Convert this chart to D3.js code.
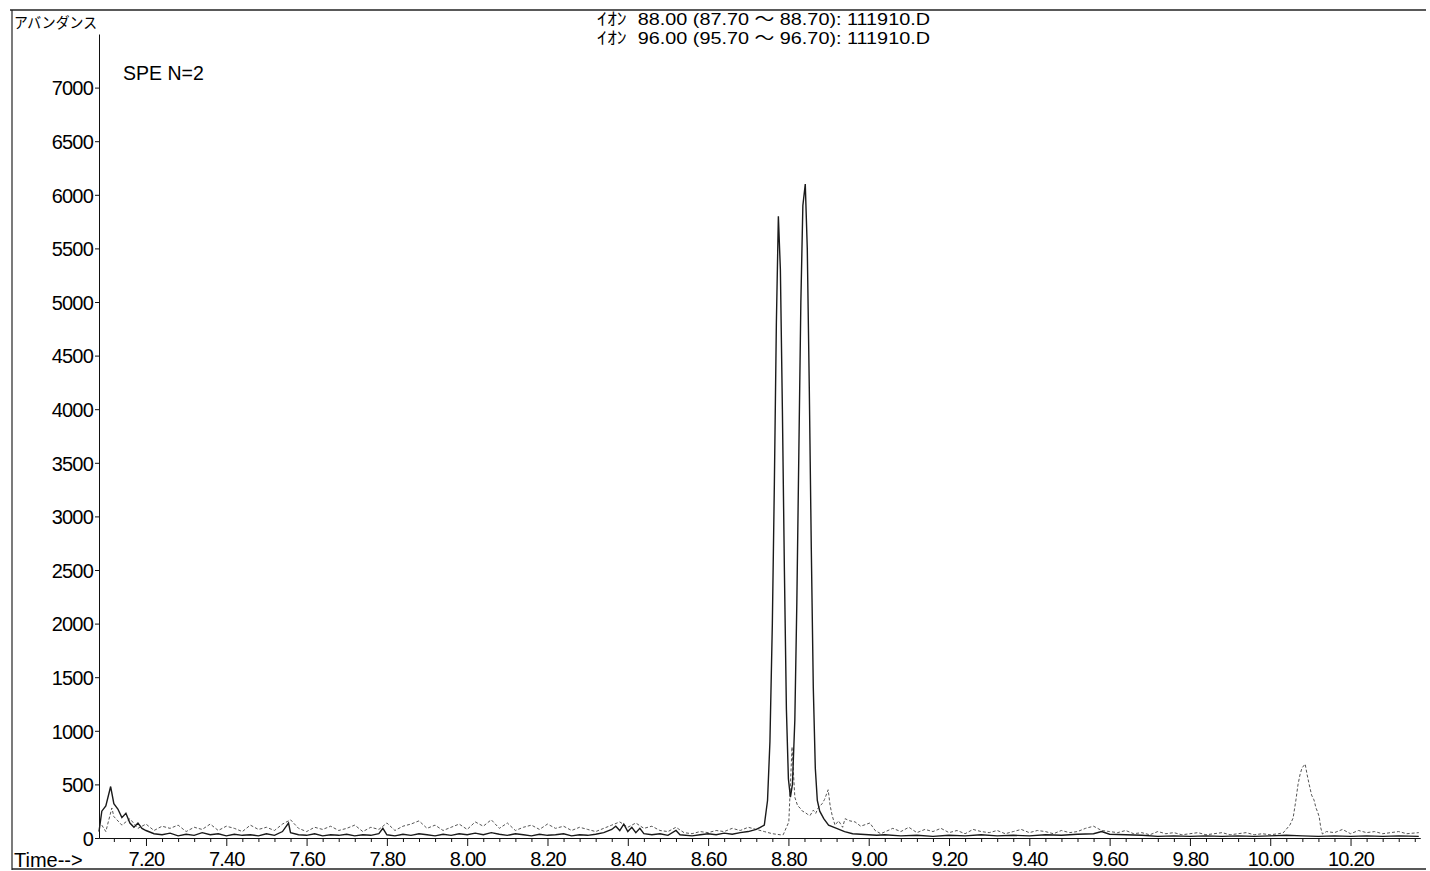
<!DOCTYPE html>
<html>
<head>
<meta charset="utf-8">
<script src="https://cdn.jsdelivr.net/npm/d3@7"></script>
<style>
  body { margin: 0; background: #fff; }
  svg { display: block; }
  .axis text { font-family: "Liberation Sans", Arial, sans-serif; font-size: 20px; letter-spacing: -0.8px; fill: #000; }
  .axis path, .axis line { stroke: #111; }
</style>
</head>
<body>
<svg id="chart" width="1430" height="871"></svg>
<script>
// Chart data

var headerLines = [
  'ｲｵﾝ  88.00 (87.70 ～ 88.70): 111910.D',
  'ｲｵﾝ  96.00 (95.70 ～ 96.70): 111910.D'
]

var yTicks = [0, 500, 1000, 1500, 2000, 2500, 3000, 3500, 4000, 4500, 5000, 5500, 6000, 6500, 7000]
var xTicks = [7.2, 7.4, 7.6, 7.8, 8.0, 8.2, 8.4, 8.6, 8.8, 9.0, 9.2, 9.4, 9.6, 9.8, 10.0, 10.2]

// ion 88 : time (min), abundance
var ion88Time = [
  7.083, 7.09, 7.10, 7.112, 7.12, 7.13, 7.14, 7.15, 7.16, 7.17, 7.18, 7.19, 7.20, 7.22, 7.24,
  7.26, 7.28, 7.30, 7.32, 7.34, 7.36, 7.38, 7.40, 7.42, 7.44, 7.46, 7.48, 7.50, 7.52, 7.54,
  7.555, 7.56, 7.58, 7.60, 7.62, 7.64, 7.66, 7.68, 7.70, 7.72, 7.74, 7.76, 7.78, 7.79, 7.80,
  7.82, 7.84, 7.86, 7.88, 7.90, 7.92, 7.94, 7.96, 7.98, 8.00, 8.02, 8.04, 8.06, 8.08, 8.10,
  8.12, 8.14, 8.16, 8.18, 8.20, 8.22, 8.24, 8.26, 8.28, 8.30, 8.32, 8.34, 8.36, 8.37, 8.38,
  8.39, 8.40, 8.41, 8.42, 8.43, 8.44, 8.46, 8.48, 8.50, 8.52, 8.53, 8.56, 8.58, 8.60, 8.62,
  8.64, 8.66, 8.68, 8.70, 8.72, 8.73, 8.740, 8.748, 8.754, 8.760, 8.765, 8.770, 8.775, 8.780,
  8.785, 8.790, 8.795, 8.800, 8.805, 8.810, 8.816, 8.821, 8.826, 8.831, 8.836, 8.842, 8.847,
  8.852, 8.857, 8.862, 8.867, 8.872, 8.878, 8.888, 8.90, 8.92, 8.94, 8.96, 8.98, 9.00, 9.02,
  9.04, 9.08, 9.12, 9.16, 9.20, 9.24, 9.28, 9.32, 9.36, 9.40, 9.44, 9.48, 9.52, 9.56, 9.58,
  9.60, 9.64, 9.68, 9.72, 9.76, 9.80, 9.84, 9.88, 9.92, 9.96, 10.00, 10.04, 10.08, 10.12,
  10.16, 10.20, 10.24, 10.28, 10.32, 10.37
]
var ion88Abund = [
  60, 250, 300, 480, 320, 270, 190, 230, 140, 100, 140, 90, 70, 40, 30,
  45, 20, 35, 25, 50, 30, 40, 20, 35, 25, 30, 20, 40, 25, 60,
  140, 50, 30, 25, 40, 20, 30, 25, 35, 20, 30, 25, 40, 90, 30,
  20, 35, 25, 40, 30, 20, 35, 25, 40, 30, 45, 30, 50, 35, 25,
  40, 30, 20, 35, 25, 30, 40, 20, 30, 25, 35, 50, 80, 110, 70,
  130, 60, 100, 50, 90, 40, 30, 40, 25, 70, 30, 20, 30, 40, 30,
  45, 35, 50, 60, 80, 100, 120, 350, 900, 2000, 3300, 4800, 5800, 5300,
  4000, 2500, 1200, 550, 380, 500, 1100, 2200, 3600, 5000, 5900, 6100, 5500,
  4200, 2700, 1400, 650, 350, 250, 180, 120, 90, 60, 40, 35, 30, 25,
  30, 20, 25, 15, 25, 20, 30, 20, 25, 20, 30, 25, 35, 40, 60,
  35, 30, 25, 15, 20, 15, 20, 15, 20, 15, 20, 25, 20, 15,
  20, 15, 20, 15, 20, 15
]

// ion 96 : time (min), abundance
var ion96Time = [
  7.09, 7.10, 7.115, 7.12, 7.14, 7.16, 7.18, 7.20, 7.22, 7.24, 7.26, 7.28, 7.30, 7.32, 7.34,
  7.36, 7.38, 7.40, 7.42, 7.44, 7.46, 7.48, 7.50, 7.52, 7.54, 7.56, 7.58, 7.60, 7.62, 7.64,
  7.66, 7.68, 7.70, 7.72, 7.74, 7.76, 7.78, 7.80, 7.82, 7.84, 7.86, 7.88, 7.90, 7.92, 7.94,
  7.96, 7.98, 8.00, 8.02, 8.04, 8.06, 8.08, 8.10, 8.12, 8.14, 8.16, 8.18, 8.20, 8.22, 8.24,
  8.26, 8.28, 8.30, 8.32, 8.34, 8.36, 8.38, 8.40, 8.42, 8.44, 8.46, 8.48, 8.50, 8.52, 8.54,
  8.56, 8.58, 8.60, 8.62, 8.64, 8.66, 8.68, 8.70, 8.72, 8.74, 8.76, 8.78, 8.787, 8.801, 8.809,
  8.816, 8.823, 8.829, 8.835, 8.841, 8.848, 8.854, 8.862, 8.868, 8.874, 8.884, 8.89, 8.894,
  8.899, 8.904, 8.909, 8.916, 8.925, 8.935, 8.941, 8.953, 8.966, 8.98, 9.003, 9.016, 9.03,
  9.06, 9.08, 9.10, 9.12, 9.14, 9.16, 9.18, 9.20, 9.22, 9.24, 9.26, 9.28, 9.30, 9.32, 9.34,
  9.36, 9.38, 9.40, 9.42, 9.44, 9.46, 9.48, 9.50, 9.52, 9.54, 9.56, 9.58, 9.60, 9.62, 9.64,
  9.66, 9.68, 9.70, 9.72, 9.74, 9.76, 9.78, 9.80, 9.82, 9.84, 9.86, 9.88, 9.90, 9.92, 9.94,
  9.96, 9.98, 10.00, 10.02, 10.032, 10.049, 10.057, 10.064, 10.069, 10.074, 10.079, 10.087,
  10.092, 10.097, 10.103, 10.109, 10.114, 10.118, 10.122, 10.126, 10.13, 10.14, 10.16, 10.18,
  10.20, 10.22, 10.24, 10.26, 10.28, 10.30, 10.32, 10.34, 10.37
]
var ion96Abund = [
  120, 60, 280, 200, 120, 180, 90, 130, 70, 110, 90, 120, 60, 100, 80,
  130, 70, 110, 90, 60, 120, 80, 100, 70, 130, 170, 90, 60, 100, 80,
  110, 70, 90, 120, 60, 100, 80, 140, 70, 110, 130, 160, 90, 120, 70,
  100, 130, 80, 150, 110, 170, 90, 140, 70, 100, 120, 80, 130, 90, 110,
  70, 100, 80, 60, 90, 120, 150, 100, 140, 90, 110, 70, 60, 100, 50,
  40, 60, 50, 70, 60, 90, 70, 100, 80, 60, 40, 30, 30, 150, 850,
  380, 300, 280, 250, 240, 220, 210, 260, 230, 280, 320, 360, 400,
  450, 300, 210, 120, 160, 100, 180, 160, 150, 110, 140, 70, 40,
  90, 60, 100, 50, 80, 60, 90, 50, 70, 40, 80, 60, 50, 70, 40,
  60, 80, 50, 70, 60, 40, 70, 50, 60, 90, 110, 70, 60, 50, 70,
  40, 50, 30, 60, 40, 50, 30, 40, 50, 30, 40, 50, 30, 40, 50,
  30, 40, 30, 40, 47, 121, 187, 355, 495, 588, 653, 690,
  588, 500, 400, 355, 280, 243, 196, 93, 37, 60, 50, 80,
  40, 70, 50, 60, 40, 50, 60, 40, 50
]

var svg = d3.select('#chart')

// Scales (domain runs a bit past the last tick, like the plot frame)
var xPositionScale = d3.scaleLinear().domain([7.083, 10.373]).range([99, 1420])
var yPositionScale = d3.scaleLinear().domain([0, 7500]).range([838, 34])

// outer frame of the printout
svg.append('line').attr('x1', 10).attr('x2', 1426).attr('y1', 10).attr('y2', 10)
  .attr('stroke', '#222').attr('stroke-width', 1.5)
svg.append('line').attr('x1', 12).attr('x2', 12).attr('y1', 10).attr('y2', 870)
  .attr('stroke', '#222').attr('stroke-width', 1.2)
svg.append('line').attr('x1', 12).attr('x2', 1426).attr('y1', 869).attr('y2', 869)
  .attr('stroke', '#222').attr('stroke-width', 1.5)

// header
svg.selectAll('.header')
  .data(headerLines)
  .enter()
  .append('text')
  .attr('class', 'header')
  .attr('x', 597)
  .attr('y', (d, i) => 25 + i * 19)
  .attr('font-family', '"Liberation Sans", "Noto Sans CJK JP", sans-serif')
  .attr('font-size', 17)
  .attr('fill', '#000')
  .attr('textLength', 333)
  .attr('lengthAdjust', 'spacingAndGlyphs')
  .style('white-space', 'pre')
  .text(d => d)

svg.append('text')
  .attr('x', 14)
  .attr('y', 28)
  .attr('font-family', '"Noto Sans CJK JP", sans-serif')
  .attr('font-size', 15)
  .attr('fill', '#000')
  .attr('textLength', 83)
  .attr('lengthAdjust', 'spacingAndGlyphs')
  .text('アバンダンス')

svg.append('text')
  .attr('x', 123)
  .attr('y', 80)
  .attr('font-family', '"Liberation Sans", Arial, sans-serif')
  .attr('font-size', 19.5)
  .attr('fill', '#000')
  .text('SPE N=2')

svg.append('text')
  .attr('x', 14)
  .attr('y', 867)
  .attr('font-family', '"Liberation Sans", Arial, sans-serif')
  .attr('font-size', 20)
  .attr('fill', '#000')
  .text('Time-->')

// axes
var yAxis = d3.axisLeft(yPositionScale)
  .tickValues(yTicks)
  .tickFormat(d3.format('d'))
  .tickSize(4)
  .tickSizeOuter(0)
svg.append('g')
  .attr('class', 'axis y-axis')
  .attr('transform', 'translate(99,0)')
  .call(yAxis)
  .call(g => g.selectAll('text').attr('x', -6).attr('dy', '0.36em'))

var minorTicks = d3.range(7.12, 10.37, 0.04).filter(t => xTicks.every(m => Math.abs(m - t) > 0.005))
svg.append('g')
  .attr('class', 'axis x-minor')
  .attr('transform', 'translate(0,838)')
  .call(d3.axisBottom(xPositionScale).tickValues(minorTicks).tickFormat('').tickSize(4).tickSizeOuter(0))

var xAxis = d3.axisBottom(xPositionScale)
  .tickValues(xTicks)
  .tickFormat(d3.format('.2f'))
  .tickSize(8)
  .tickSizeOuter(0)
svg.append('g')
  .attr('class', 'axis x-axis')
  .attr('transform', 'translate(0,838)')
  .call(xAxis)
  .call(g => g.selectAll('text').attr('y', 14))

// traces
var ion96 = ion96Time.map((t, i) => ({ t: t, v: ion96Abund[i] }))
var ion88 = ion88Time.map((t, i) => ({ t: t, v: ion88Abund[i] }))

var line = d3.line()
  .x(d => xPositionScale(d.t))
  .y(d => yPositionScale(d.v))

svg.append('path')
  .datum(ion96)
  .attr('d', line)
  .attr('fill', 'none')
  .attr('stroke', '#555')
  .attr('stroke-width', 1)
  .attr('stroke-dasharray', '3,2')

svg.append('path')
  .datum(ion88)
  .attr('d', line)
  .attr('fill', 'none')
  .attr('stroke', '#1a1a1a')
  .attr('stroke-width', 1.4)
</script>
</body>
</html>
